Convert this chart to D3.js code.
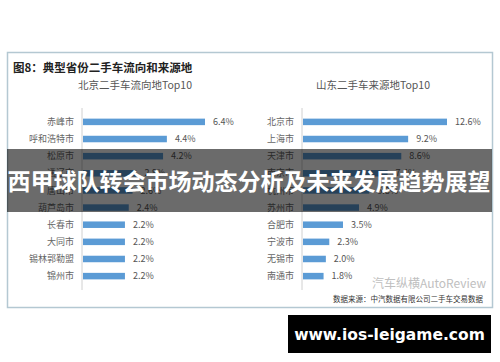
<!DOCTYPE html>
<html>
<head>
<meta charset="utf-8">
<script src="https://cdn.jsdelivr.net/npm/d3@7"></script>
<style>
  body { margin: 0; background: #fff; }
  svg { display: block; font-family: "Noto Sans CJK SC", "Noto Sans", sans-serif; }
</style>
</head>
<body>
<svg id="chart"></svg>
<script>
// DATA

const leftCities = ["赤峰市", "呼和浩特市", "松原市", "通辽市", "唐山市", "葫芦岛市", "长春市", "大同市", "锡林郭勒盟", "锦州市"];
const leftValues = [6.4, 4.4, 4.2, 2.8, 2.6, 2.4, 2.2, 2.2, 2.2, 2.2];

const rightCities = ["北京市", "上海市", "天津市", "南京市", "杭州市", "苏州市", "合肥市", "宁波市", "无锡市", "南通市"];
const rightValues = [12.6, 9.2, 8.6, 7.4, 5.8, 4.9, 3.5, 2.3, 2.0, 1.8];

const width = 500;
const height = 362;

const svg = d3.select("#chart")
  .attr("width", width)
  .attr("height", height);

// FRAME

svg.append("rect")
  .attr("x", 7.5).attr("y", 52.5)
  .attr("width", 485).attr("height", 255)
  .attr("fill", "#fff")
  .attr("stroke", "#b4c8d2")
  .attr("stroke-width", 1.5);

svg.append("text")
  .attr("x", 13).attr("y", 72)
  .attr("font-size", 11.5)
  .attr("font-weight", "bold")
  .attr("fill", "#222")
  .text("图8：典型省份二手车流向和来源地");

// PANELS

function panel(cats, vals, axisX, maxEnd, title, titleX) {

  const y = d3.scaleBand()
    .domain(cats)
    .range([108, 290])
    .padding(0.62);

  const x = d3.scaleLinear()
    .domain([0, d3.max(vals)])
    .range([axisX + 1, maxEnd]);

  const g = svg.append("g");

  g.append("text")
    .attr("x", titleX).attr("y", 89)
    .attr("text-anchor", "middle")
    .attr("font-size", 10.5)
    .attr("fill", "#555")
    .text(title);

  g.append("line")
    .attr("x1", axisX).attr("x2", axisX)
    .attr("y1", 108).attr("y2", 290)
    .attr("stroke", "#d0d0d0");

  const rows = cats.map((c, i) => ({ city: c, value: vals[i] }));

  g.selectAll("rect.bar")
    .data(rows)
    .enter()
    .append("rect")
    .attr("class", "bar")
    .attr("x", x(0))
    .attr("y", d => y(d.city))
    .attr("width", d => x(d.value) - x(0))
    .attr("height", y.bandwidth())
    .attr("fill", "#5b9bd5");

  g.selectAll("text.cat")
    .data(rows)
    .enter()
    .append("text")
    .attr("class", "cat")
    .attr("x", axisX - 8)
    .attr("y", d => y(d.city) + y.bandwidth() / 2)
    .attr("dy", "0.35em")
    .attr("text-anchor", "end")
    .attr("font-size", 9)
    .attr("fill", "#666")
    .text(d => d.city);

  g.selectAll("text.val")
    .data(rows)
    .enter()
    .append("text")
    .attr("class", "val")
    .attr("x", d => x(d.value) + 8)
    .attr("y", d => y(d.city) + y.bandwidth() / 2)
    .attr("dy", "0.35em")
    .attr("font-size", 9)
    .attr("fill", "#555")
    .text(d => d.value.toFixed(1) + "%");
}

panel(leftCities, leftValues, 82, 205, "北京二手车流向地Top10", 135);
panel(rightCities, rightValues, 302, 447, "山东二手车来源地Top10", 373);

// WATERMARK + SOURCE

svg.append("text")
  .attr("x", 372).attr("y", 288)
  .attr("font-size", 12)
  .attr("fill", "#c0c0c0")
  .text("汽车纵横AutoReview");

svg.append("text")
  .attr("x", 483).attr("y", 302)
  .attr("text-anchor", "end")
  .attr("font-size", 7.5)
  .attr("fill", "#333")
  .text("数据来源：中汽数据有限公司二手车交易数据");

// BANNER OVERLAY

svg.append("rect")
  .attr("x", 7).attr("y", 149)
  .attr("width", 485).attr("height", 63)
  .attr("fill", "#000")
  .attr("opacity", 0.58);

svg.append("text")
  .attr("x", 249).attr("y", 190)
  .attr("text-anchor", "middle")
  .attr("font-size", 23)
  .attr("font-weight", "bold")
  .attr("fill", "#fff")
  .text("西甲球队转会市场动态分析及未来发展趋势展望");

svg.append("rect")
  .attr("x", 288).attr("y", 315)
  .attr("width", 203).attr("height", 38)
  .attr("fill", "#000");

svg.append("text")
  .attr("x", 389.5).attr("y", 339.5)
  .attr("text-anchor", "middle")
  .attr("font-size", 15.5)
  .attr("font-weight", "bold")
  .attr("font-family", "'DejaVu Sans', sans-serif")
  .attr("fill", "#fff")
  .text("www.ios-leigame.com");
</script>
</body>
</html>
